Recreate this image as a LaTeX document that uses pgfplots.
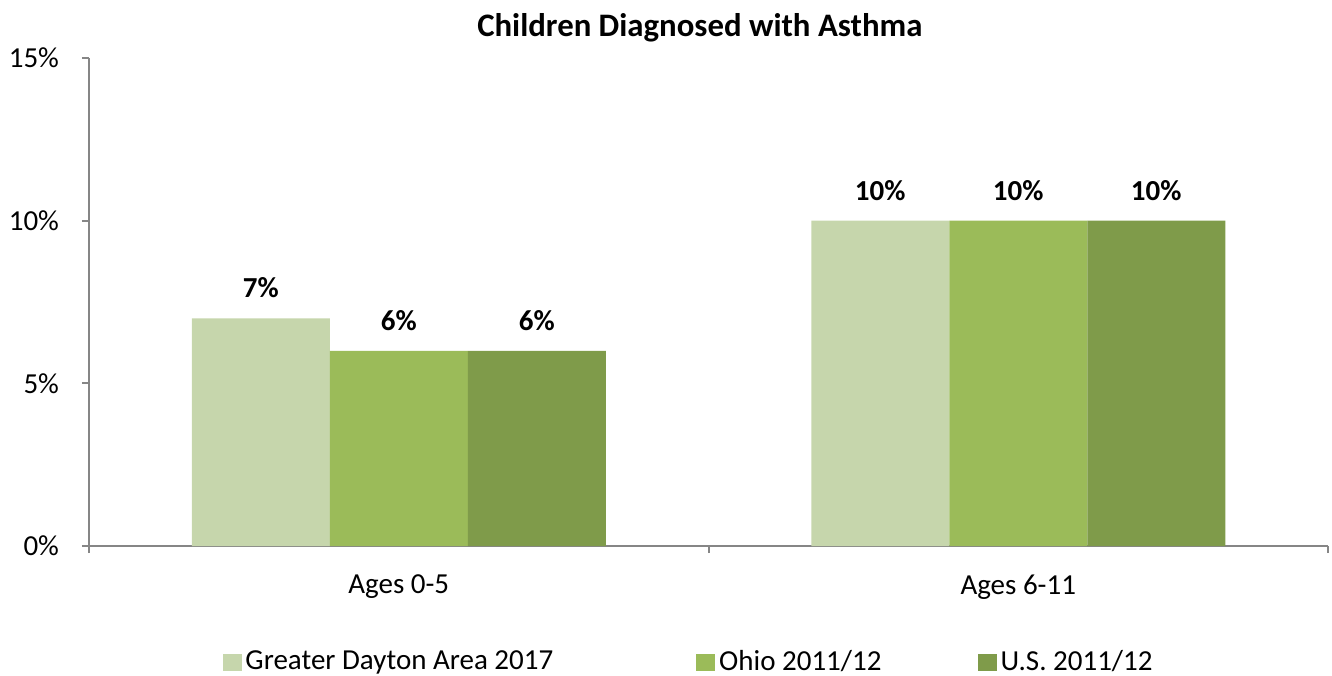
\documentclass[border=0pt]{standalone}
\usepackage{pgfplots}
\pgfplotsset{compat=1.18}
\usepackage{fontspec}
\setmainfont{Carlito}
\definecolor{c1}{HTML}{C6D6AC}
\definecolor{c2}{HTML}{9BBB59}
\definecolor{c3}{HTML}{7F9B4A}
\definecolor{axgray}{HTML}{868686}
\begin{document}
\begin{tikzpicture}
\useasboundingbox (0,0) rectangle (666pt,-337.5pt);
\begin{axis}[
 at={(44.5pt,-273pt)}, anchor=south west,
 scale only axis, width=619.5pt, height=244pt,
 ybar=0pt, bar width=69pt,
 xmin=-0.5, xmax=1.5, ymin=0, ymax=15,
 xtick={-0.5,0.5,1.5}, xticklabels={},
 extra x ticks={0,1}, extra x tick labels={Ages 0-5, Ages 6-11},
 extra x tick style={major tick length=0pt, xticklabel style={yshift=-11pt}},
 ytick={0,5,10,15},
 yticklabel={\pgfmathprintnumber{\tick}\%},
 /pgf/number format/assume math mode=true,
 axis lines*=left,
 axis line style={axgray, line width=1pt, -},
 tick align=outside, major tick length=3.5pt,
 tick style={axgray, line width=1pt},
 ticklabel style={font=\fontsize{14.5}{17}\selectfont, text=black},
 yticklabel style={xshift=-8pt},
 nodes near coords={\pgfmathprintnumber{\pgfplotspointmeta}\%},
 nodes near coords style={font=\bfseries\fontsize{14.5}{17}\selectfont, text=black, anchor=south, yshift=6.5pt},
 title={Children Diagnosed with Asthma},
 title style={font=\bfseries\fontsize{16.4}{19}\selectfont, at={(axis description cs:0.493,1)}, anchor=center, yshift=9pt},
 legend columns=3,
 legend style={draw=none, fill=none, font=\fontsize{14.5}{17}\selectfont, at={(axis description cs:0.4847,-0.2377)}, anchor=center, /tikz/every even column/.append style={column sep=0pt}},
 legend image code/.code={\fill[#1] (0pt,-4.25pt) rectangle (9.5pt,4.25pt);},
]
\addplot[fill=c1, draw=none] coordinates {(0,7) (1,10)};
\addplot[fill=c2, draw=none] coordinates {(0,6) (1,10)};
\addplot[fill=c3, draw=none] coordinates {(0,6) (1,10)};
\legend{Greater Dayton Area 2017\kern69.5pt, Ohio 2011/12\kern46pt, U.S. 2011/12}
\end{axis}
\end{tikzpicture}
\end{document}
